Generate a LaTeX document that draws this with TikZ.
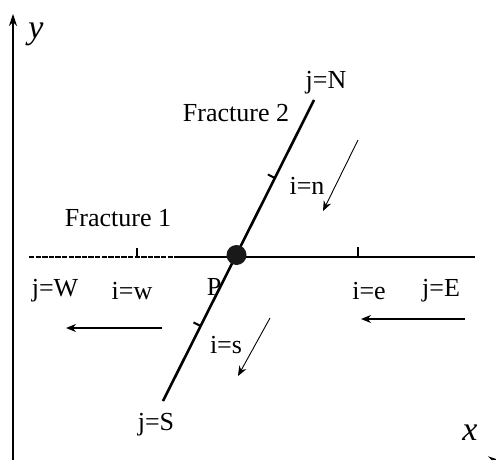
\documentclass[tikz,border=0pt]{standalone}
\usepackage{fontspec}
\setmainfont{Liberation Serif}
\usetikzlibrary{arrows.meta}
\tikzset{
  lbl/.style={font=\fontsize{13}{15}\selectfont, inner sep=0pt},
  axlbl/.style={font=\fontsize{17}{19}\selectfont\itshape, inner sep=0pt},
  frac/.style={line width=1.3pt},
  tick/.style={line width=1pt},
  flow/.style={line width=0.75pt, -{Stealth[length=5pt,width=4pt]}},
  thinflow/.style={line width=0.45pt, -{Stealth[length=5pt,width=4pt]}},
  axis/.style={line width=0.6pt, -{Stealth[length=6pt,width=4pt]}}
}
\begin{document}
\begin{tikzpicture}[x=0.5pt,y=-0.5pt]
\useasboundingbox (0,0) rectangle (496,459);
% axes
\coordinate (O) at (13,460.3);
\coordinate (Ytop) at (13,14);
\coordinate (Xend) at (500,460.3);
\draw[axis] (O) -- (Ytop);
\draw[axis] (O) -- (Xend);
\node[axlbl] (ylab) at (36,34) {y};
\node[axlbl] (xlab) at (470,433) {x};
% fracture 1
\coordinate (W) at (29,257);
\coordinate (Wd) at (178,257);
\coordinate (E) at (475,257);
\draw[line width=1.3pt, dash pattern=on 2.7pt off 0.6pt] (W) -- (Wd);
\draw[frac] (Wd) -- (E);
\coordinate (tw) at (137,257);
\coordinate (tw2) at (137,248);
\coordinate (te) at (358,257);
\coordinate (te2) at (358,247);
\draw[tick] (tw) -- (tw2);
\draw[tick] (te) -- (te2);
% fracture 2
\coordinate (N) at (314,100);
\coordinate (S) at (163,401);
\draw[frac] (N) -- (S);
\coordinate (tn) at (274.9,178);
\coordinate (tn2) at (267.8,174.4);
\coordinate (ts) at (200.6,326);
\coordinate (ts2) at (193.5,322.4);
\draw[tick] (tn) -- (tn2);
\draw[tick] (ts) -- (ts2);
% point P
\node[circle, fill=black!90, minimum size=10pt, inner sep=0pt] (Pdot) at (236.5,255) {};
% labels
\node[lbl] (f1) at (118,218) {Fracture 1};
\node[lbl] (f2) at (236,113) {Fracture 2};
\node[lbl] (jN) at (326,83) {j=N};
\node[lbl] (in) at (307,186) {i=n};
\node[lbl] (jW) at (55,291) {j=W};
\node[lbl] (iw) at (132,291) {i=w};
\node[lbl] (P) at (214,287) {P};
\node[lbl] (ie) at (369,291) {i=e};
\node[lbl] (jE) at (441,291) {j=E};
\node[lbl] (is) at (226,345) {i=s};
\node[lbl] (jS) at (156,425) {j=S};
% flow arrows
\coordinate (a1s) at (358,140);
\coordinate (a1e) at (323,211);
\draw[thinflow] (a1s) -- (a1e);
\coordinate (a2s) at (270,318);
\coordinate (a2e) at (238,376);
\draw[thinflow] (a2s) -- (a2e);
\coordinate (a3s) at (162,328);
\coordinate (a3e) at (66,328);
\draw[flow] (a3s) -- (a3e);
\coordinate (a4s) at (465,319);
\coordinate (a4e) at (361,319);
\draw[flow] (a4s) -- (a4e);
\end{tikzpicture}
\end{document}
